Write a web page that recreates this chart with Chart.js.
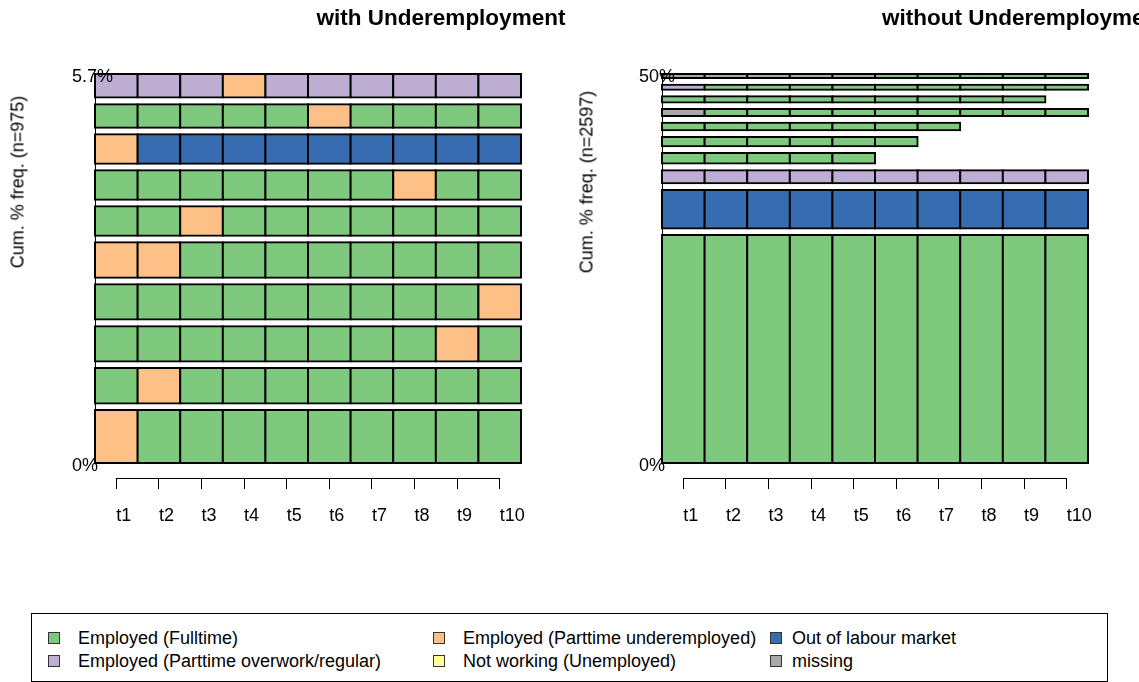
<!DOCTYPE html>
<html>
<head>
<meta charset="utf-8">
<script src="https://cdn.jsdelivr.net/npm/chart.js@4.4.1/dist/chart.umd.min.js"></script>
<style>
body { margin: 0; width: 1139px; height: 682px; overflow: hidden; background: #fff; position: relative;
       font-family: "Liberation Sans", Arial, sans-serif; color: #000; }
canvas { position: absolute; top: 0; }
#leftChart { left: 0; }
#rightChart { left: 569px; }
.title { position: absolute; top: 7px; font-size: 22.5px; font-weight: bold; white-space: nowrap; line-height: 22px; }
.ylab { position: absolute; font-size: 18px; white-space: nowrap; transform: translate(-50%, -50%) rotate(-90deg); }
.legend { position: absolute; left: 31px; top: 613px; width: 1077px; height: 69px; border: 1px solid #000; box-sizing: border-box; }
.key { position: absolute; font-size: 18px; white-space: nowrap; line-height: 18px; }
.key span { position: absolute; width: 10px; height: 10px; border: 1px solid #333; top: 3px; }
</style>
</head>
<body>
<canvas id="leftChart" width="569" height="560"></canvas>
<canvas id="rightChart" width="570" height="560"></canvas>
<div class="title" style="left:441px; transform: translateX(-50%);">with Underemployment</div>
<div class="title" style="left:882px;">without Underemployment</div>
<div class="ylab" style="left:18px; top:182px;">Cum. % freq. (n=975)</div>
<div class="ylab" style="left:587px; top:182px;">Cum. % freq. (n=2597)</div>
<div class="legend" id="legend"></div>

<script>
const timeLabels = ['t1', 't2', 't3', 't4', 't5', 't6', 't7', 't8', 't9', 't10'];

const stateCodes = ['FT', 'PO', 'PU', 'NW', 'OL', 'MS'];
const stateNames = ['Employed (Fulltime)', 'Employed (Parttime overwork/regular)', 'Employed (Parttime underemployed)',
                    'Not working (Unemployed)', 'Out of labour market', 'missing'];
const stateColors = ['#7FC97F', '#BEAED4', '#FDC086', '#FFFF99', '#386CB0', '#A9A9A9'];

// with underemployment: 10 most frequent sequences, most frequent first (drawn bottom up)
const withN = 975;
const withCounts = [9, 6, 6, 6, 6, 5, 5, 5, 4, 4];
const withSeqs = [
    'PU FT FT FT FT FT FT FT FT FT',
    'FT PU FT FT FT FT FT FT FT FT',
    'FT FT FT FT FT FT FT FT PU FT',
    'FT FT FT FT FT FT FT FT FT PU',
    'PU PU FT FT FT FT FT FT FT FT',
    'FT FT PU FT FT FT FT FT FT FT',
    'FT FT FT FT FT FT FT PU FT FT',
    'PU OL OL OL OL OL OL OL OL OL',
    'FT FT FT FT FT PU FT FT FT FT',
    'PO PO PO PU PO PO PO PO PO PO'
];

// without underemployment ('%' = void, not drawn)
const withoutN = 2597;
const withoutCounts = [898, 152, 52, 42, 37, 30, 28, 24, 20, 16];
const withoutSeqs = [
    'FT FT FT FT FT FT FT FT FT FT',
    'OL OL OL OL OL OL OL OL OL OL',
    'PO PO PO PO PO PO PO PO PO PO',
    'FT FT FT FT FT % % % % %',
    'FT FT FT FT FT FT % % % %',
    'FT FT FT FT FT FT FT % % %',
    'MS FT FT FT FT FT FT FT FT FT',
    'FT FT FT FT FT FT FT FT FT %',
    'PO FT FT FT FT FT FT FT FT FT',
    'MS MS MS MS MS FT FT FT FT FT'
];

const FONT = '"Liberation Sans", Arial, sans-serif';

function buildRows(seqs, counts, n) {
    // bar heights = freq, space between bars = 0.2 * mean freq (like barplot)
    const total = counts.reduce((a, b) => a + b, 0);
    const gap = 0.2 * total / counts.length;
    let y = 0;
    const datasets = seqs.map((s, i) => {
        const codes = s.split(' ');
        const lo = y / n * 100;
        const hi = (y + counts[i]) / n * 100;
        y += counts[i] + gap;
        return {
            data: codes.map(c => c === '%' ? null : [lo, hi]),
            backgroundColor: codes.map(c => stateColors[stateCodes.indexOf(c)] || 'rgba(0,0,0,0)')
        };
    });
    const top = datasets[datasets.length - 1].data.find(d => d)[1];
    const cum = Number((total / n * 100).toFixed(1));
    return { datasets, top, topLabel: cum + '%' };
}

const axisLines = {
    id: 'axisLines',
    beforeDatasetsDraw(chart, args, opts) {
        const { ctx, scales: { y } } = chart;
        const xl = Math.round(chart.chartArea.left) + 0.5;
        ctx.save();
        ctx.strokeStyle = '#000';
        ctx.lineWidth = 1;
        ctx.beginPath();
        ctx.moveTo(xl, y.getPixelForValue(0));
        ctx.lineTo(xl, y.getPixelForValue(opts.top));
        ctx.stroke();
        ctx.restore();
    },
    afterDraw(chart) {
        const { ctx, scales: { x } } = chart;
        const yb = Math.round(chart.chartArea.bottom) + 0.5;
        ctx.save();
        ctx.strokeStyle = '#000';
        ctx.lineWidth = 1;
        ctx.beginPath();
        ctx.moveTo(x.getPixelForTick(0), yb);
        ctx.lineTo(x.getPixelForTick(x.ticks.length - 1), yb);
        ctx.stroke();
        ctx.restore();
    }
};

function drawSeqChart(id, seqs, counts, n, padLeft, padRight) {
    const rows = buildRows(seqs, counts, n);
    // chart area runs 15px below the 0% line so the time axis sits under the bars
    const yMin = -rows.top * 15 / 389;
    new Chart(document.getElementById(id), {
        type: 'bar',
        data: { labels: timeLabels, datasets: rows.datasets },
        plugins: [axisLines],
        options: {
            responsive: false,
            animation: false,
            layout: { padding: { left: padLeft, right: padRight, top: 74, bottom: 0 } },
            datasets: {
                bar: {
                    grouped: false,
                    barPercentage: 1,
                    categoryPercentage: 1,
                    borderColor: '#000',
                    borderWidth: 2,
                    inflateAmount: 1,
                    borderSkipped: false,
                    clip: false
                }
            },
            plugins: {
                legend: { display: false },
                tooltip: { enabled: false },
                axisLines: { top: rows.top }
            },
            scales: {
                x: {
                    grid: { offset: false, drawOnChartArea: false, drawTicks: true, tickLength: 11,
                            color: '#000', tickColor: '#000', tickWidth: 1 },
                    border: { display: false },
                    ticks: { align: 'start', padding: 16, color: '#000', autoSkip: false, maxRotation: 0,
                             font: { family: FONT, size: 18 } },
                    afterFit: s => { s.height = 82; }
                },
                y: {
                    min: yMin,
                    max: rows.top,
                    afterBuildTicks: s => { s.ticks = [{ value: 0 }, { value: rows.top }]; },
                    grid: { display: false },
                    border: { display: false },
                    ticks: {
                        z: 1,
                        mirror: true,
                        crossAlign: 'near',
                        padding: -23,
                        labelOffset: 3,
                        color: '#000',
                        font: { family: FONT, size: 18 },
                        callback: v => v === 0 ? '0%' : rows.topLabel
                    },
                    afterFit: s => { s.width = 23; }
                }
            }
        }
    });
}

drawSeqChart('leftChart', withSeqs, withCounts, withN, 72, 48);
drawSeqChart('rightChart', withoutSeqs, withoutCounts, withoutN, 70, 51);

// legend: 3 columns, 2 rows
const colText = [46, 431, 760];
const colBox = [-30, -30, -22];
const rowTop = [15, 38];
const legend = document.getElementById('legend');
stateNames.forEach((name, i) => {
    const col = Math.floor(i / 2), row = i % 2;
    const d = document.createElement('div');
    d.className = 'key';
    d.style.left = colText[col] + 'px';
    d.style.top = rowTop[row] + 'px';
    d.innerHTML = '<span style="left:' + colBox[col] + 'px;background:' + stateColors[i] + '"></span>' + name;
    legend.appendChild(d);
});
</script>
</body>
</html>
